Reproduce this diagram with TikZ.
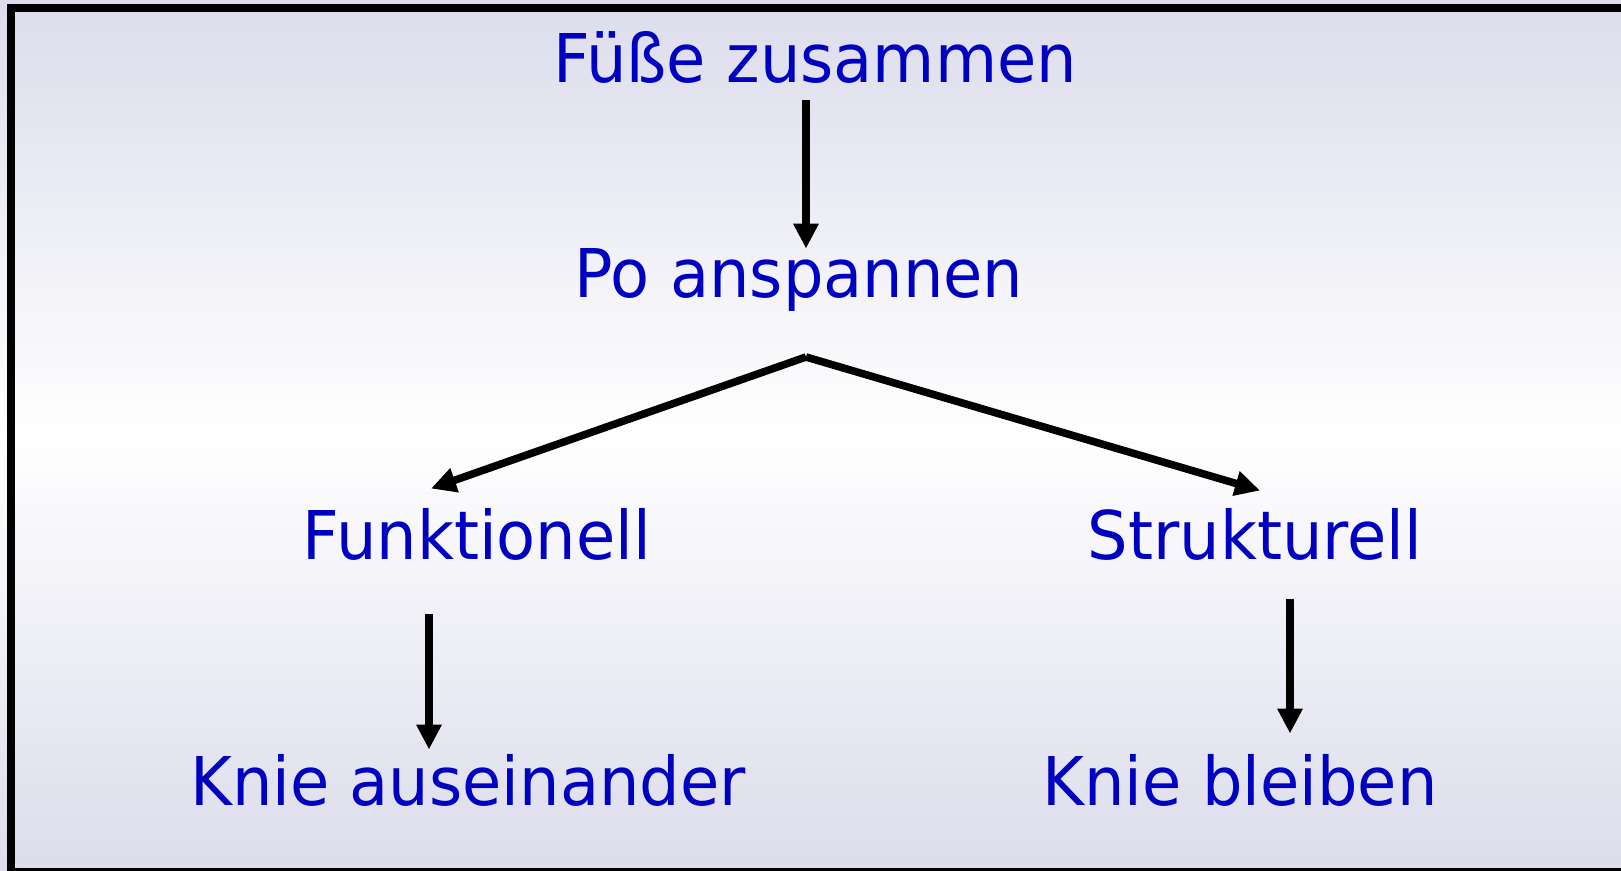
\documentclass[tikz,border=0pt]{standalone}
\usepackage{fontspec}
\setmainfont{DejaVu Sans}[FakeStretch=0.95]
\usetikzlibrary{arrows.meta}
\definecolor{textblau}{RGB}{0,0,192}
\definecolor{hintergrund}{RGB}{220,220,236}
\tikzset{
  schritt/.style={text=textblau, font=\fontsize{33.6}{40}\selectfont, inner sep=0pt, anchor=base},
  pfeil/.style={line width=3.8pt, -{Triangle[length=12.5pt,width=12pt]}},
}
\begin{document}
\begin{tikzpicture}[x=0.5pt,y=-0.5pt]
  % background and frame
  \useasboundingbox (0,0) rectangle (1621,871);
  \shade[top color=hintergrund, bottom color=hintergrund, middle color=white] (0,0) rectangle (1621,871);
  \draw[line width=4pt] (1640,8.3) -- (11.3,8.3) -- (11.3,871.5) -- (1640,871.5);
  % steps
  \node[schritt] (fuesse) at (815,83) {Füße zusammen};
  \node[schritt] (po) at (799,298) {Po anspannen};
  \node[schritt] (funk) at (477,559) {Funktionell};
  \node[schritt] (strukt) at (1255,559) {Strukturell};
  \node[schritt] (knieA) at (468,805) {Knie auseinander};
  \node[schritt] (knieB) at (1240,805) {Knie bleiben};
  \coordinate (gabel) at (806,357);
  % arrows
  \draw[pfeil] ([xshift=-4.5pt,yshift=-8pt]fuesse.south) -- ([xshift=3.5pt]po.north);
  \draw[pfeil] (gabel) -- ([xshift=-23pt,yshift=9.5pt]funk.north);
  \draw[pfeil] (gabel) -- ([xshift=2.5pt,yshift=8.5pt]strukt.north);
  \draw[pfeil] ([xshift=-24pt,yshift=-27pt]funk.south) -- ([xshift=-19.5pt,yshift=2pt]knieA.north);
  \draw[pfeil] ([xshift=17.5pt,yshift=-19.5pt]strukt.south) -- ([xshift=25pt,yshift=10pt]knieB.north);
\end{tikzpicture}
\end{document}
